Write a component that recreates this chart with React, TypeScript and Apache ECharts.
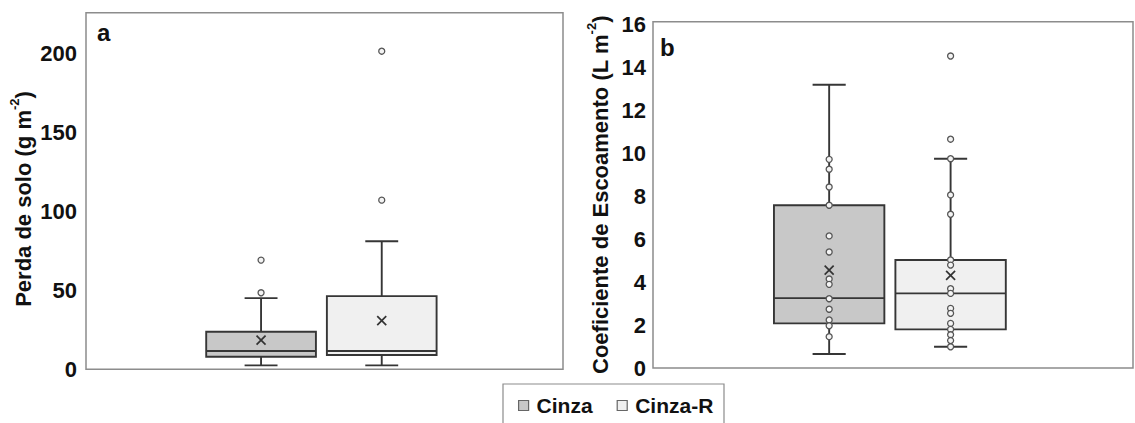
import React, { useEffect, useRef } from 'react';
import * as echarts from 'echarts';

// ---------- data ----------
const categories = ['Cinza', 'Cinza-R'];

// Panel a – Perda de solo (g m-2): [min, Q1, mediana, Q3, max]
const soilLossCinza = [2.5, 8.0, 11.6, 23.8, 45.1];
const soilLossCinzaR = [2.5, 9.1, 11.6, 46.4, 81.2];
const soilLossMean = [18.5, 30.8];
const soilLossPointsCinza = [48.5, 69.2];
const soilLossPointsCinzaR = [107.2, 201.6];
const soilLossTicks = [0, 50, 100, 150, 200];

// Panel b – Coeficiente de Escoamento (L m-2)
const runoffCinza = [0.65, 2.08, 3.26, 7.59, 13.21];
const runoffCinzaR = [0.99, 1.8, 3.48, 5.04, 9.76];
const runoffMean = [4.56, 4.32];
const runoffPointsCinza = [9.73, 9.27, 8.44, 7.59, 6.16, 5.41, 4.15, 3.9, 3.23, 2.74, 2.24, 1.97, 1.46];
const runoffPointsCinzaR = [14.55, 10.67, 9.76, 8.07, 7.17, 5.04, 4.8, 3.7, 3.48, 2.78, 2.55, 2.08, 1.8, 1.55, 1.28, 0.99];
const runoffTicks = [0, 2, 4, 6, 8, 10, 12, 14, 16];

// ---------- layout / style constants ----------
const FILLS = ['#c8c8c8', '#f0f0f0'];
const BOX_CENTER = [0.367, 0.62];
const BOX_WIDTH = 0.23;
const CAP_RATIO = 0.3;
const STROKE = '#363636';
const FONT = "'Liberation Sans', Arial, sans-serif";

const App: React.FC = () => {
  const ref = useRef<HTMLDivElement>(null);

  useEffect(() => {
    if (!ref.current) return;
    const chart = echarts.init(ref.current, undefined, { renderer: 'svg' });

    const renderBox = (catIdx: number) => (params: any, api: any) => {
      const cx = BOX_CENTER[catIdx];
      const vals = [1, 2, 3, 4, 5, 6].map((d) => api.value(d));
      const [mn, q1, md, q3, mx, mean] = vals;
      const px = api.coord([cx, mn])[0];
      const y = (v: number) => api.coord([cx, v])[1];
      const half = api.size([BOX_WIDTH, 0])[0] / 2;
      const cap = half * CAP_RATIO;
      const ls = { stroke: STROKE, lineWidth: 1.9 };
      const mk = 4.5;
      return {
        type: 'group',
        children: [
          { type: 'line', shape: { x1: px, y1: y(q3), x2: px, y2: y(mx) }, style: ls },
          { type: 'line', shape: { x1: px, y1: y(q1), x2: px, y2: y(mn) }, style: ls },
          { type: 'line', shape: { x1: px - cap, y1: y(mx), x2: px + cap, y2: y(mx) }, style: ls },
          { type: 'line', shape: { x1: px - cap, y1: y(mn), x2: px + cap, y2: y(mn) }, style: ls },
          {
            type: 'rect',
            shape: { x: px - half, y: y(q3), width: half * 2, height: y(q1) - y(q3) },
            style: { fill: FILLS[catIdx], stroke: STROKE, lineWidth: 1.9 },
          },
          { type: 'line', shape: { x1: px - half, y1: y(md), x2: px + half, y2: y(md) }, style: ls },
          { type: 'line', shape: { x1: px - mk, y1: y(mean) - mk, x2: px + mk, y2: y(mean) + mk }, style: { stroke: '#333', lineWidth: 1.7 } },
          { type: 'line', shape: { x1: px - mk, y1: y(mean) + mk, x2: px + mk, y2: y(mean) - mk }, style: { stroke: '#333', lineWidth: 1.7 } },
        ],
      };
    };

    const boxSeries = (stats: number[], mean: number, catIdx: number, axisIdx: number) => ({
      type: 'custom',
      name: categories[catIdx],
      xAxisIndex: axisIdx,
      yAxisIndex: axisIdx,
      itemStyle: { color: FILLS[catIdx] },
      encode: { x: 0, y: [1, 2, 3, 4, 5, 6] },
      renderItem: renderBox(catIdx),
      data: [[BOX_CENTER[catIdx], ...stats, mean]],
      z: 2,
    });

    const pointSeries = (pts: number[], catIdx: number, axisIdx: number) => ({
      type: 'scatter',
      name: 'pts',
      xAxisIndex: axisIdx,
      yAxisIndex: axisIdx,
      symbol: 'circle',
      symbolSize: 6,
      itemStyle: { color: '#f4f4f4', borderColor: '#555', borderWidth: 1.3, opacity: 1 },
      data: pts.map((v) => [BOX_CENTER[catIdx], v]),
      z: 5,
    });

    const yLabel = (margin: number) => ({
      color: '#111',
      fontSize: 22,
      fontWeight: 'bold',
      fontFamily: FONT,
      margin,
      showMaxLabel: false,
    });

    const rich = {
      t: { fontSize: 22, fontWeight: 'bold', fontFamily: FONT, color: '#111', lineHeight: 26, verticalAlign: 'bottom' },
      s: { fontSize: 13, fontWeight: 'bold', fontFamily: FONT, color: '#111', lineHeight: 14, verticalAlign: 'top' },
    };

    chart.setOption({
      animation: false,
      backgroundColor: '#ffffff',
      grid: [
        { left: 86, top: 12.7, width: 477, height: 356.6, show: true, borderColor: '#8c8c8c', borderWidth: 1.5, backgroundColor: 'transparent' },
        { left: 653, top: 21.7, width: 480, height: 346.3, show: true, borderColor: '#8c8c8c', borderWidth: 1.5, backgroundColor: 'transparent' },
      ],
      xAxis: [
        { type: 'value', gridIndex: 0, min: 0, max: 1, show: false },
        { type: 'value', gridIndex: 1, min: 0, max: 1, show: false },
      ],
      yAxis: [
        {
          type: 'value',
          gridIndex: 0,
          min: soilLossTicks[0],
          max: 226,
          interval: soilLossTicks[1] - soilLossTicks[0],
          axisLine: { show: false },
          axisTick: { show: false },
          splitLine: { show: false },
          axisLabel: yLabel(9),
          name: '{t|Perda de solo (g m}{s|-2}{t|)}',
          nameLocation: 'middle',
          nameGap: 52,
          nameRotate: 90,
          nameTextStyle: { rich, padding: [0, 16, 0, 0] },
        },
        {
          type: 'value',
          gridIndex: 1,
          min: runoffTicks[0],
          max: 16.15,
          interval: runoffTicks[1] - runoffTicks[0],
          axisLine: { show: false },
          axisTick: { show: false },
          splitLine: { show: false },
          axisLabel: yLabel(7),
          name: '{t|Coeficiente de Escoamento (L m}{s|-2}{t|)}',
          nameLocation: 'middle',
          nameGap: 42,
          nameRotate: 90,
          nameTextStyle: { rich },
        },
      ],
      legend: {
        data: categories.map((c, i) => ({ name: c, itemStyle: { color: FILLS[i], borderColor: '#666', borderWidth: 1.2 } })),
        left: 513,
        top: 390,
        icon: 'rect',
        itemWidth: 10,
        itemHeight: 10,
        itemGap: 24,
        selectedMode: false,
        textStyle: { fontSize: 21, fontWeight: 'bold', fontFamily: FONT, color: '#111', padding: [0, 0, 0, 3] },
      },
      graphic: [
        { type: 'rect', shape: { x: 503, y: 384, width: 221, height: 60 }, style: { fill: 'none', stroke: '#8c8c8c', lineWidth: 1.2 }, z: 0 },
        { type: 'text', x: 97, y: 20, style: { text: 'a', font: `bold 24px ${FONT}`, fill: '#111', verticalAlign: 'top' } },
        { type: 'text', x: 660, y: 35, style: { text: 'b', font: `bold 24px ${FONT}`, fill: '#111', verticalAlign: 'top' } },
      ],
      series: [
        boxSeries(soilLossCinza, soilLossMean[0], 0, 0),
        boxSeries(soilLossCinzaR, soilLossMean[1], 1, 0),
        boxSeries(runoffCinza, runoffMean[0], 0, 1),
        boxSeries(runoffCinzaR, runoffMean[1], 1, 1),
        pointSeries(soilLossPointsCinza, 0, 0),
        pointSeries(soilLossPointsCinzaR, 1, 0),
        pointSeries(runoffPointsCinza, 0, 1),
        pointSeries(runoffPointsCinzaR, 1, 1),
      ],
    });

    return () => chart.dispose();
  }, []);

  return (
    <div
      ref={ref}
      style={{ position: 'fixed', left: 0, top: 0, width: 1135, height: 423, background: '#fff' }}
    />
  );
};

export default App;
